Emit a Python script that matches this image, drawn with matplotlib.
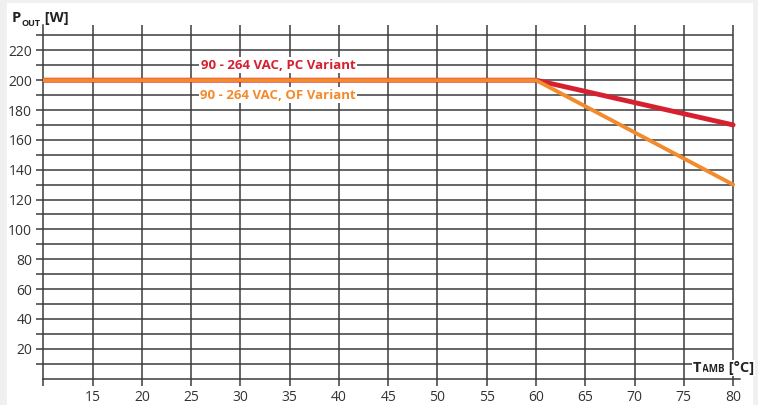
import matplotlib.pyplot as plt
import numpy as np

# derating curves
temp = [10, 60, 80]
pc_power = [200, 200, 170]
of_power = [200, 200, 130]

x_ticks = list(range(10, 85, 5))
x_labels = [""] + [str(v) for v in range(15, 85, 5)]
y_ticks = list(range(10, 240, 10))
y_labels = [str(v) if v % 20 == 0 else "" for v in y_ticks]

red = "#d7202f"
orange = "#f38a2c"
grid_col = "#3c3c3c"

plt.rcParams["font.family"] = ["Open Sans", "DejaVu Sans"]

fig = plt.figure(figsize=(7.58, 4.05), dpi=100)
fig.patch.set_facecolor("#f0f0f0")
fig.patches.append(plt.Rectangle((7 / 758, 0), 745 / 758, 402 / 405,
                                 transform=fig.transFigure, color="white", zorder=-5))

ax = fig.add_axes([43.3 / 758, (405 - 378.5) / 405, (740 - 43.3) / 758, 353.5 / 405])
ax.set_facecolor("none")
ax.set_xlim(10, 80.7)
ax.set_ylim(0, 237)

# grid
ax.hlines(y_ticks, 10, 80, color=grid_col, lw=1.1, zorder=1)
ax.vlines(x_ticks[1:], 0, 237, color=grid_col, lw=1.1, zorder=1)

for s in ["top", "right"]:
    ax.spines[s].set_visible(False)
for s in ["left", "bottom"]:
    ax.spines[s].set_color(grid_col)
    ax.spines[s].set_linewidth(1.1)

ax.set_xticks(x_ticks)
ax.set_xticklabels(x_labels)
ax.set_yticks(y_ticks)
ax.set_yticklabels(y_labels)
ax.tick_params(axis="both", direction="out", length=5, width=1.1, color=grid_col,
               labelsize=10, labelcolor="#333333", pad=3)

# curves
ax.plot(temp, pc_power, color=red, lw=3.5, zorder=3, solid_capstyle="round")
ax.plot(temp, of_power, color=orange, lw=2.8, zorder=4, solid_capstyle="round")

# labels of the curves
ax.text(33.8, 210, "90 - 264 VAC, PC Variant", color=red, fontsize=9.5, fontweight="bold",
        ha="center", va="center", zorder=5,
        bbox=dict(facecolor="white", edgecolor="none", pad=1))
ax.text(33.8, 190, "90 - 264 VAC, OF Variant", color=orange, fontsize=9.5, fontweight="bold",
        ha="center", va="center", zorder=5,
        bbox=dict(facecolor="white", edgecolor="none", pad=1))

# axis titles
tp = fig.text(12 / 758, 1 - 22 / 405, "P", fontsize=10.5, fontweight="bold", color="#222222")
ap = ax.annotate("OUT", xy=(1, 0), xycoords=tp, xytext=(0.5, -2), textcoords="offset points",
                 fontsize=6.5, fontweight="bold", color="#222222", va="bottom",
                 annotation_clip=False)
ax.annotate(" [W]", xy=(1, 0), xycoords=ap, xytext=(0, 2), textcoords="offset points",
            fontsize=10.5, fontweight="bold", color="#222222", va="bottom",
            annotation_clip=False)

tt = fig.text(693 / 758, 1 - 372 / 405, "T", fontsize=10.5, fontweight="bold", color="#222222",
              bbox=dict(facecolor="white", edgecolor="none", pad=1), zorder=6)
at = ax.annotate("AMB", xy=(1, 0), xycoords=tt, xytext=(0.5, 0), textcoords="offset points",
                 fontsize=7, fontweight="bold", color="#222222", va="bottom",
                 bbox=dict(facecolor="white", edgecolor="none", pad=1), zorder=7,
                 annotation_clip=False)
ax.annotate(" [°C]", xy=(1, 0), xycoords=at, xytext=(0, 0), textcoords="offset points",
            fontsize=10.5, fontweight="bold", color="#222222", va="bottom", zorder=6,
            bbox=dict(facecolor="white", edgecolor="none", pad=1),
            annotation_clip=False)

fig.savefig("out.png", dpi=100)
